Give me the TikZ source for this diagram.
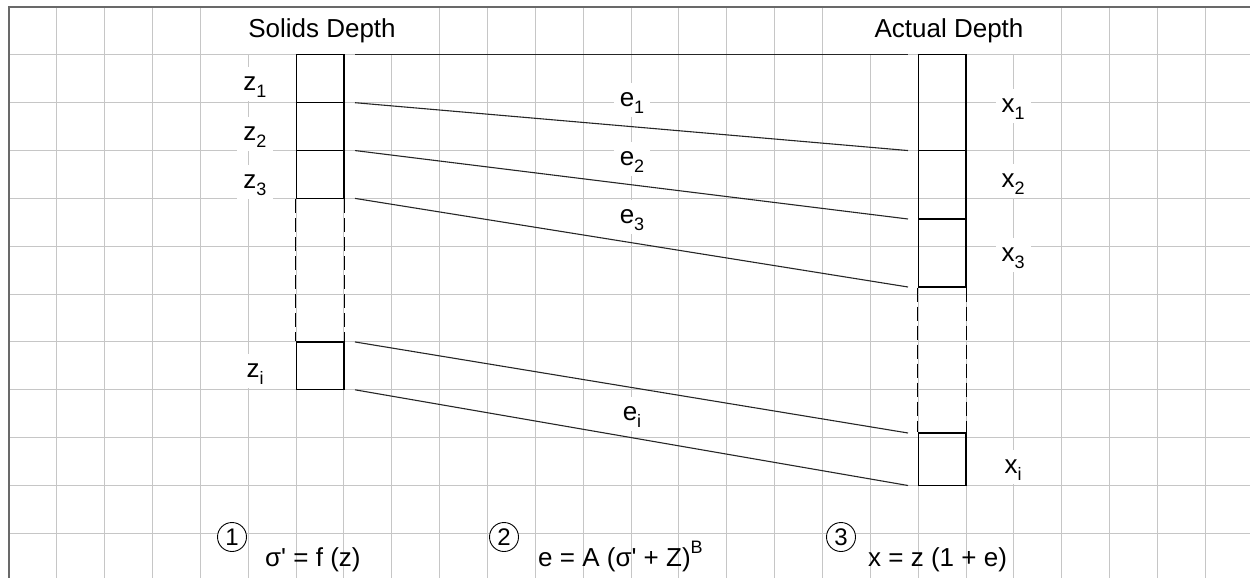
\documentclass[tikz,border=0pt]{standalone}
\usepackage{fontspec}
\setmainfont{Liberation Sans}
\newcommand\mysub[1]{\raisebox{-7pt}{\fontsize{18}{18}\selectfont #1}}
\newcommand\mysup[1]{\raisebox{13pt}{\fontsize{18}{18}\selectfont #1}}
\definecolor{gridc}{RGB}{198,198,198}
\definecolor{borderc}{RGB}{105,105,105}
\begin{document}
\begin{tikzpicture}[x=1pt,y=-1pt,
  lbl/.style={fill=white, inner xsep=6pt, inner ysep=3pt, text height=20pt, text depth=8pt, font=\fontsize{26}{31}\selectfont, anchor=base},
  head/.style={fill=white, inner xsep=5pt, inner ysep=0pt, minimum height=46pt, text height=19pt, text depth=5.5pt, font=\fontsize{26}{31}\selectfont},
  cell/.style={draw=black, line width=1.2pt, minimum width=47.85pt, inner sep=0pt},
  link/.style={draw=black!85, line width=1.1pt},
  num/.style={circle, draw=black, line width=0.9pt, fill=white, minimum size=29pt, inner sep=0pt, font=\fontsize{24}{24}\selectfont},
  formula/.style={anchor=base west, inner sep=0pt, font=\fontsize{26}{31}\selectfont},
  dsh/.style={draw=black, line width=1.2pt, dash pattern=on 14pt off 5pt}
]
\useasboundingbox (0,0) rectangle (1250,578);
% grid
\foreach \k in {0,...,25} \draw[gridc, line width=1.3pt] ({floor(9+47.85*\k)+0.5},7) -- ({floor(9+47.85*\k)+0.5},578);
\foreach \j in {0,...,11} \draw[gridc, line width=1.3pt] (9,{floor(7+47.85*\j)+0.5}) -- (1250,{floor(7+47.85*\j)+0.5});

% left column cells
\node[cell, minimum height=47.85pt] (zc1) at (320.025,78.775) {};
\node[cell, minimum height=47.85pt] (zc2) at (320.025,126.625) {};
\node[cell, minimum height=47.85pt] (zc3) at (320.025,174.475) {};
\node[cell, minimum height=47.85pt] (zci) at (320.025,365.875) {};
\draw[dsh] (zc3.south west) -- (zci.north west);
\draw[dsh] (zc3.south east) -- (zci.north east);

% right column cells
\node[cell, minimum height=95.7pt] (xc1) at (942.075,102.7) {};
\node[cell, minimum height=68.45pt] (xc2) at (942.075,184.775) {};
\node[cell, minimum height=68pt] (xc3) at (942.075,253) {};
\node[cell, minimum height=52.5pt] (xci) at (942.075,459.25) {};
\draw[dsh] (xc3.south west) -- (xci.north west);
\draw[dsh] (xc3.south east) -- (xci.north east);

% link end points
\coordinate (L0) at (355,54.85);  \coordinate (R0) at (908,54.85);
\coordinate (L1) at (355,102.7);  \coordinate (R1) at (908,150.55);
\coordinate (L2) at (355,150.55); \coordinate (R2) at (908,219);
\coordinate (L3) at (355,198.4);  \coordinate (R3) at (908,287);
\coordinate (L4) at (355,341.95); \coordinate (R4) at (908,433);
\coordinate (L5) at (355,389.8);  \coordinate (R5) at (908,485.5);
\foreach \i in {0,...,5} \draw[link] (L\i) -- (R\i);

% headings
\node[head] (sd) at (322,31) {Solids Depth};
\node[head] (ad) at (949,31) {Actual Depth};

% z labels
\node[lbl] (z1) at (255,90) {z\mysub{1}};
\node[lbl] (z2) at (255,140) {z\mysub{2}};
\node[lbl] (z3) at (255,188) {z\mysub{3}};
\node[lbl] (zi) at (255,377) {z\mysub{i}};

% e labels
\node[lbl] (e1) at (632,106) {e\mysub{1}};
\node[lbl] (e2) at (632,165) {e\mysub{2}};
\node[lbl] (e3) at (632,223) {e\mysub{3}};
\node[lbl] (ei) at (632,420) {e\mysub{i}};

% x labels
\node[lbl] (x1) at (1013,112) {x\mysub{1}};
\node[lbl] (x2) at (1013,187) {x\mysub{2}};
\node[lbl] (x3) at (1013,261) {x\mysub{3}};
\node[lbl] (xi) at (1013,473) {x\mysub{i}};

% bottom formulas
\node[num] (n1) at (232,537) {1};
\node[num] (n2) at (504,537) {2};
\node[num] (n3) at (841,537) {3};
\node[formula] (f1) at (265,566) {σ\textquotesingle{} = f (z)};
\node[formula] (f2) at (538,566) {e = A (σ\textquotesingle{} + Z)\mysup{B}};
\node[formula] (f3) at (868,566) {x = z (1 + e)};

% border
\draw[borderc, line width=2pt] (9,578) -- (9,7) -- (1250,7);
\end{tikzpicture}
\end{document}
